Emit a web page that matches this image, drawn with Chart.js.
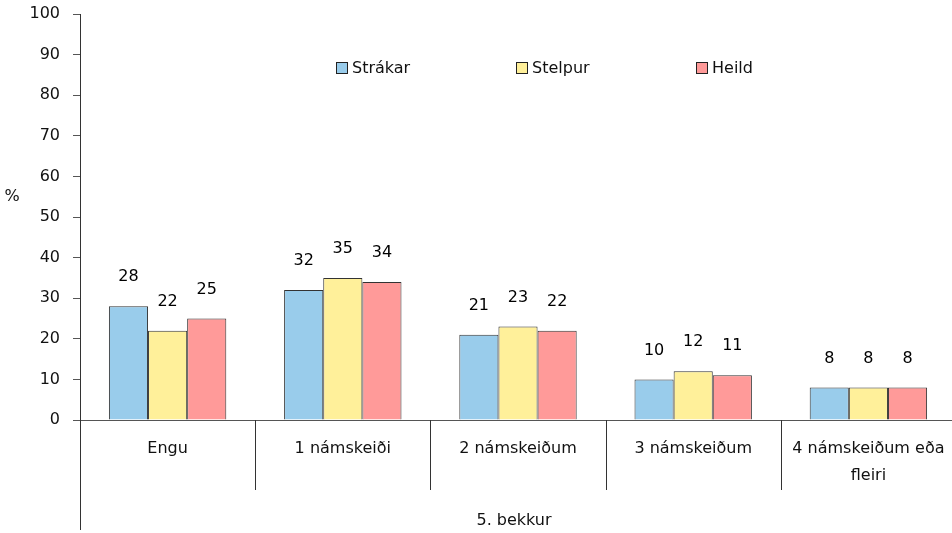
<!DOCTYPE html>
<html><head><meta charset="utf-8">
<script src="https://cdn.jsdelivr.net/npm/chart.js@4.4.0/dist/chart.umd.min.js"></script>
<style>html,body{margin:0;padding:0;background:#fff;overflow:hidden}#wrap{width:960px;height:533px}</style>
</head><body><div id="wrap"><canvas id="c" width="960" height="533"></canvas></div>
<script>
const categories = [["Engu"], ["1 námskeiði"], ["2 námskeiðum"], ["3 námskeiðum"], ["4 námskeiðum eða", "fleiri"]];
const groupLabel = "5. bekkur";
const seriesNames = ["Strákar", "Stelpur", "Heild"];
const strakar = [28, 32, 21, 10, 8];
const stelpur = [22, 35, 23, 12, 8];
const heild = [25, 34, 22, 11, 8];
const yTicks = [0, 10, 20, 30, 40, 50, 60, 70, 80, 90, 100];
const yTitle = "%";
const colors = ["#99CCEB", "#FFF09A", "#FF9A99"];

const UI_FONT = "'DejaVu Sans', sans-serif";

const overlay = {
  id: 'overlay',
  afterDraw(chart) {
    const ctx = chart.ctx, ca = chart.chartArea, x = chart.scales.x, y = chart.scales.y;
    ctx.save();
    ctx.strokeStyle = '#555'; ctx.lineWidth = 1;
    const by = Math.round(y.getPixelForValue(0)) + 0.5;
    ctx.beginPath(); ctx.moveTo(ca.left, by); ctx.lineTo(ca.right, by); ctx.stroke();
    ctx.strokeStyle = '#333';
    ctx.beginPath(); ctx.moveTo(Math.round(ca.left) + 0.5, ca.bottom); ctx.lineTo(Math.round(ca.left) + 0.5, 530); ctx.stroke();
    const n = categories.length;
    const w = (ca.right - ca.left) / n;
    for (let i = 1; i < n; i++) {
      const sx = Math.round(ca.left + w * i) + 0.5;
      ctx.beginPath(); ctx.moveTo(sx, ca.bottom); ctx.lineTo(sx, 490); ctx.stroke();
    }
    ctx.fillStyle = '#111'; ctx.font = "16px " + UI_FONT; ctx.textAlign = 'center'; ctx.textBaseline = 'middle';
    categories.forEach((lines, i) => {
      const cx = x.getPixelForValue(i);
      lines.forEach((t, j) => ctx.fillText(t, cx, 449 + j * 27));
    });
    ctx.fillText(groupLabel, (ca.left + ca.right - 8) / 2, 521);
    ctx.fillText(yTitle, 12, 197);
    ctx.fillStyle = '#000';
    chart.data.datasets.forEach((ds, di) => {
      const meta = chart.getDatasetMeta(di);
      meta.data.forEach((bar, i) => {
        ctx.fillText(String(ds.data[i]), bar.x, bar.y - 29);
      });
    });
    const lx = [336, 516, 696];
    ctx.textAlign = 'left';
    seriesNames.forEach((nm, i) => {
      ctx.fillStyle = colors[i];
      ctx.fillRect(lx[i] + 0.5, 62.5, 11, 11);
      ctx.strokeStyle = '#222'; ctx.strokeRect(lx[i] + 0.5, 62.5, 11, 11);
      ctx.fillStyle = '#111';
      ctx.fillText(nm, lx[i] + 16, 68.5);
    });
    ctx.restore();
  }
};

new Chart(document.getElementById('c'), {
  type: 'bar',
  data: {
    labels: categories.map(c => c.join(' ')),
    datasets: [strakar, stelpur, heild].map((d, i) => ({
      label: seriesNames[i], data: d, backgroundColor: colors[i],
      borderColor: '#333', borderWidth: 1, borderSkipped: 'bottom',
      categoryPercentage: 0.67, barPercentage: 1.0
    }))
  },
  options: {
    responsive: false, animation: false, events: [],
    layout: { padding: { top: 14, right: 4, bottom: 113, left: 0 } },
    plugins: { legend: { display: false }, tooltip: { enabled: false } },
    scales: {
      x: { display: false },
      y: {
        min: 0, max: 100,
        afterFit(s) { s.width = 80; s.paddingTop = 0; s.paddingBottom = 0; },
        afterBuildTicks(s) { s.ticks = yTicks.map(v => ({ value: v })); },
        ticks: { color: '#111', font: { size: 16, family: UI_FONT }, padding: 13 },
        grid: { drawOnChartArea: false, tickLength: 7, color: '#555' },
        border: { display: true, color: '#333' }
      }
    }
  },
  plugins: [overlay]
});
</script></body></html>
